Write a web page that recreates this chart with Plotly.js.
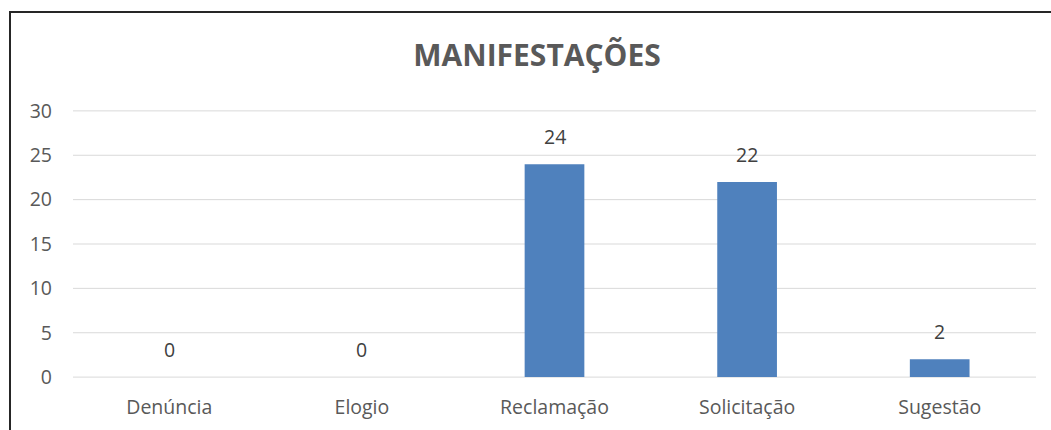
<!DOCTYPE html>
<html>
<head>
<meta charset="utf-8">
<script src="https://cdn.plot.ly/plotly-3.0.1.min.js"></script>
<style>
  html, body { margin: 0; padding: 0; background: #fff; }
  #wrap { position: relative; width: 1051px; height: 430px; overflow: hidden; }
  #chart { width: 1051px; height: 430px; }
  #frame { position: absolute; left: 9px; top: 11px; width: 1100px; height: 500px;
           border-left: 2px solid #262626; border-top: 2px solid #262626; pointer-events: none; }
</style>
</head>
<body>
<div id="wrap">
  <div id="chart"></div>
  <div id="frame"></div>
</div>
<script>
const categories = ["Denúncia", "Elogio", "Reclamação", "Solicitação", "Sugestão"];
const values = [0, 0, 24, 22, 2];
const yTicks = [0, 5, 10, 15, 20, 25, 30];
const chartTitle = "MANIFESTAÇÕES";

const font = "Open Sans, Lato, sans-serif";
const textColor = "#595959";
const gridColor = "#d9d9d9";

const trace = {
  type: "bar",
  x: categories,
  y: values,
  marker: { color: "#4F81BD" },
  width: 0.31,
  hoverinfo: "x+y"
};

const annotations = categories.map((c, i) => ({
  x: c, y: values[i], xref: "x", yref: "y",
  text: String(values[i]), showarrow: false,
  yanchor: "bottom", yshift: 12,
  font: { family: font, size: 19.5, color: "#404040" }
}));

// gridlines drawn as shapes from the tick values so the edge lines (0 and 30) show too
const gridShapes = yTicks.map(v => ({
  type: "line", xref: "paper", yref: "y",
  x0: 0, x1: 1, y0: v, y1: v, layer: "below",
  line: { color: gridColor, width: 1 }
}));

const layout = {
  width: 1051, height: 430,
  margin: { l: 73, r: 15, t: 110, b: 52 },
  paper_bgcolor: "#ffffff",
  plot_bgcolor: "#ffffff",
  showlegend: false,
  title: {
    text: "<b>" + chartTitle + "</b>",
    xref: "container", yref: "container",
    x: 0.511, y: 0.872, xanchor: "center", yanchor: "middle",
    font: { family: font, size: 30, color: textColor }
  },
  xaxis: {
    type: "category",
    showgrid: false, zeroline: false, showline: false,
    ticks: "",
    ticklabelstandoff: 15,
    tickfont: { family: font, size: 19.5, color: textColor }
  },
  yaxis: {
    range: [-0.1, 30.1],
    tickvals: yTicks,
    showgrid: false,
    zeroline: false, showline: false, ticks: "",
    ticklabelstandoff: 20,
    tickfont: { family: font, size: 19.5, color: textColor }
  },
  shapes: gridShapes,
  annotations: annotations
};

Plotly.newPlot("chart", [trace], layout, { displayModeBar: false, staticPlot: true });
</script>
</body>
</html>
